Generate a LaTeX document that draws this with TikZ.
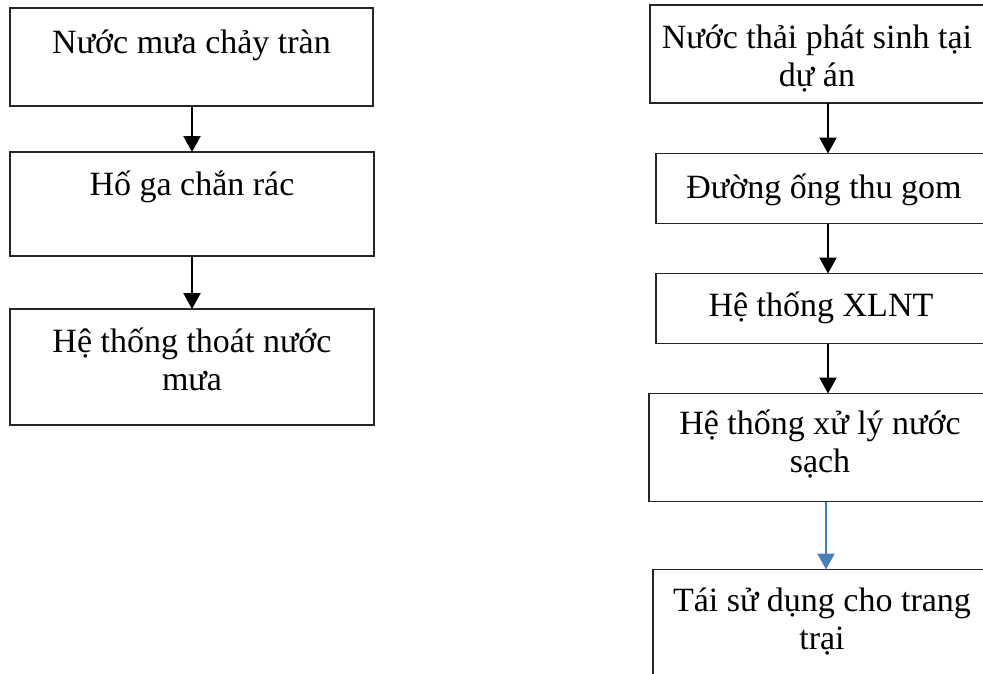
\documentclass[tikz,border=0pt]{standalone}
\usepackage{fontspec}
\setmainfont{Liberation Serif}
\usetikzlibrary{arrows.meta}

\definecolor{flowblue}{HTML}{4A7EBB}

\tikzset{
  box/.style={draw=black!85, line width=1.2pt, inner sep=0pt, outer sep=0pt},
  lbl/.style={inner sep=0pt, outer sep=0pt, anchor=base},
  flow/.style={line width=2.4pt, -{Triangle[width=17pt,length=16pt]}},
  blueflow/.style={flow, draw=flowblue, -{Triangle[width=17pt,length=16pt,fill=flowblue]}}
}
% centred lines of text; the node's base is the first line's baseline
\newcommand{\boxtext}[1]{\parbox[t]{330pt}{\fontsize{34pt}{38pt}\selectfont\centering #1}}

\begin{document}
\begin{tikzpicture}[x=1pt, y=-1pt]
\clip (0,0) rectangle (983,673);
\fill[white] (0,0) rectangle (983,673);

% ---- rainwater line (left) ----
\node[box, minimum width=363pt, minimum height=98pt]  (l1) at (191.5,57)  {};
\node[box, minimum width=364pt, minimum height=104pt] (l2) at (192,204)   {};
\node[box, minimum width=364pt, minimum height=116pt] (l3) at (192,367)   {};

\node[lbl] (l1t) at (191.5,53) {\boxtext{Nước mưa chảy tràn}};
\node[lbl] (l2t) at (192,195)  {\boxtext{Hố ga chắn rác}};
\node[lbl] (l3t) at (192,352)  {\boxtext{Hệ thống thoát nước\\ mưa}};

\coordinate (lx) at (192,0);
\draw[flow] (l1.south -| lx) -- (l2.north -| lx);
\draw[flow] (l2.south -| lx) -- (l3.north -| lx);

% ---- wastewater line (right) ----
\node[box, minimum width=334pt, minimum height=98pt]  (ra) at (817,54)    {};
\node[box, minimum width=336pt, minimum height=70pt]  (rb) at (824,188.5) {};
\node[box, minimum width=330pt, minimum height=70pt]  (rc) at (821,308.5) {};
\node[box, minimum width=342pt, minimum height=108pt] (rd) at (820,447.5) {};
\node[box, minimum width=338pt, minimum height=131pt] (re) at (822,635)   {};

\node[lbl] (rat) at (817,48)  {\boxtext{Nước thải phát sinh tại\\ dự án}};
\node[lbl] (rbt) at (824,198) {\boxtext{Đường ống thu gom}};
\node[lbl] (rct) at (821,316) {\boxtext{Hệ thống XLNT}};
\node[lbl] (rdt) at (820,434) {\boxtext{Hệ thống xử lý nước\\ sạch}};
\node[lbl] (ret) at (822,611) {\boxtext{Tái sử dụng cho trang\\ trại}};

\coordinate (rx) at (828,0);
\coordinate (bx) at (826,0);
\draw[flow] (ra.south -| rx) -- (rb.north -| rx);
\draw[flow] (rb.south -| rx) -- (rc.north -| rx);
\draw[flow] (rc.south -| rx) -- (rd.north -| rx);
\draw[blueflow] (rd.south -| bx) -- (re.north -| bx);
\end{tikzpicture}
\end{document}
